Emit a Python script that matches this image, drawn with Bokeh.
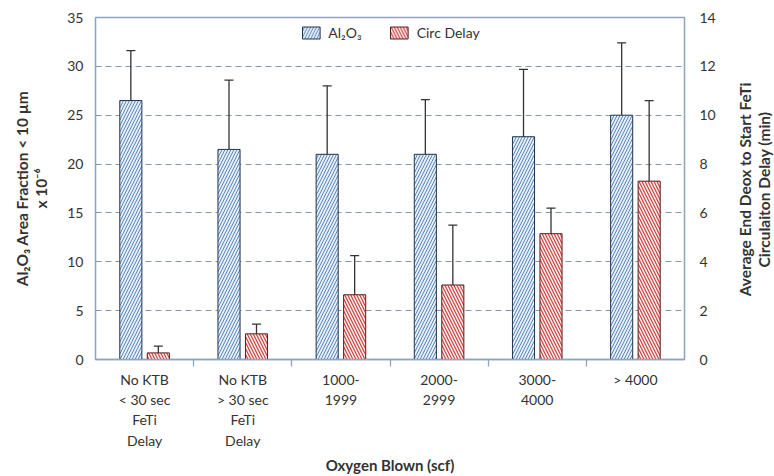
import math
from bokeh.plotting import figure
from bokeh.models import (LinearAxis, Range1d, FixedTicker, Whisker, TeeHead,
                          ColumnDataSource, Legend, LegendItem, Label)
from bokeh.transform import dodge
from bokeh.embed import file_html
from bokeh.resources import INLINE

# ---- data ----
categories = ["No KTB\n< 30 sec\nFeTi\nDelay", "No KTB\n> 30 sec\nFeTi\nDelay",
              "1000-\n1999", "2000-\n2999", "3000-\n4000", "> 4000"]
al2o3 = [26.5, 21.5, 21.0, 21.0, 22.8, 25.0]
al2o3_upper = [31.6, 28.6, 28.0, 26.6, 29.7, 32.4]
al2o3_lower = [19.9, 14.6, 15.5, 16.7, 16.8, 18.0]
circ_delay = [0.27, 1.05, 2.65, 3.05, 5.15, 7.3]
circ_upper = [0.55, 1.45, 4.25, 5.5, 6.2, 10.6]
circ_lower = [0.0, 0.8, 1.4, 1.0, 3.8, 3.9]
left_ticks = [0, 5, 10, 15, 20, 25, 30, 35]
right_ticks = [0, 2, 4, 6, 8, 10, 12, 14]
grid_ticks = [5, 10, 15, 20, 25, 30]
right_title = "Average End Deox to Start FeTi\nCirculaiton Delay (min)"

FONT = "Lato"
TXT = "#333333"
FRAME = "#8fa5bf"

xc = [i + 0.5 for i in range(len(categories))]
boundaries = [i for i in range(1, len(categories))]

src = ColumnDataSource(dict(x=xc, al=al2o3, alu=al2o3_upper, all_=al2o3_lower,
                            cd=circ_delay, cdu=circ_upper, cdl=circ_lower))

p = figure(width=774, height=476, x_range=Range1d(0, len(categories)),
           y_range=Range1d(0, 35), output_backend="svg", toolbar_location=None,
           min_border_left=95, min_border_right=90, min_border_top=17,
           min_border_bottom=112)
p.extra_y_ranges = {"right": Range1d(0, 14)}

p.outline_line_color = FRAME
p.outline_line_width = 1.3
p.xgrid.visible = False
p.ygrid.ticker = FixedTicker(ticks=grid_ticks)
p.ygrid.grid_line_color = "#8496b0"
p.ygrid.grid_line_dash = "6 4"
p.ygrid.grid_line_width = 1.2

rb = p.vbar(x=dodge("x", -0.14), top="al", width=0.225, source=src,
            fill_color="#e6eef8", line_color="#1f3350", line_width=1,
            hatch_pattern="right_diagonal_line", hatch_color="#5b86bd",
            hatch_scale=6, hatch_weight=1.0)
rr = p.vbar(x=dodge("x", 0.14), top="cd", width=0.225, source=src,
            y_range_name="right",
            fill_color="#fdf0f0", line_color="#5a1a1a", line_width=1,
            hatch_pattern="left_diagonal_line", hatch_color="#d0403d",
            hatch_scale=6, hatch_weight=1.2)

wb = Whisker(source=src, base=dodge("x", -0.14), upper="alu", lower="all_",
             dimension="height", line_color="#333333", line_width=1.3,
             upper_head=TeeHead(size=9, line_color="#333333", line_width=1.3),
             lower_head=TeeHead(size=9, line_color="#333333", line_width=1.3))
wr = Whisker(source=src, base=dodge("x", 0.14), upper="cdu", lower="cdl",
             dimension="height", y_range_name="right",
             line_color="#333333", line_width=1.3,
             upper_head=TeeHead(size=9, line_color="#333333", line_width=1.3),
             lower_head=TeeHead(size=9, line_color="#333333", line_width=1.3))
p.add_layout(wb)
p.add_layout(wr)

# bottom axis
xa = p.xaxis[0]
xa.ticker = FixedTicker(ticks=xc, minor_ticks=boundaries)
xa.major_label_overrides = {x: c for x, c in zip(xc, categories)}
xa.major_tick_line_color = None
xa.minor_tick_out = 7
xa.minor_tick_in = 0
xa.minor_tick_line_color = FRAME
xa.minor_tick_line_width = 1.3
xa.axis_line_color = FRAME
xa.axis_line_width = 1.3
xa.major_label_text_font = FONT
xa.major_label_text_font_size = "14px"
xa.major_label_text_color = TXT
xa.major_label_text_line_height = 1.2
xa.major_label_standoff = 4
xa.axis_label = "Oxygen Blown (scf)"
xa.axis_label_text_font = FONT
xa.axis_label_text_font_style = "bold"
xa.axis_label_text_font_size = "15px"
xa.axis_label_text_color = TXT
xa.axis_label_standoff = 4

# left axis
ya = p.yaxis[0]
ya.ticker = FixedTicker(ticks=left_ticks)
ya.major_tick_line_color = None
ya.major_tick_out = 0
ya.minor_tick_line_color = None
ya.axis_line_color = FRAME
ya.axis_line_width = 1.3
ya.major_label_text_font = FONT
ya.major_label_text_font_size = "14px"
ya.major_label_text_color = TXT
ya.major_label_standoff = 12
ya.axis_label = "Al\u2082O\u2083 Area Fraction < 10 \u00b5m\nx 10\u207b\u2076"
ya.axis_label_text_font = FONT
ya.axis_label_text_font_style = "bold"
ya.axis_label_text_font_size = "15.5px"
ya.axis_label_text_color = TXT
ya.axis_label_text_line_height = 1.05
ya.axis_label_standoff = 14

# right axis; its title is a rotated label in the right panel (bottom-to-top)
ra = LinearAxis(y_range_name="right", ticker=FixedTicker(ticks=right_ticks))
ra.major_tick_line_color = None
ra.major_tick_out = 0
ra.minor_tick_line_color = None
ra.axis_line_color = FRAME
ra.axis_line_width = 1.3
ra.major_label_text_font = FONT
ra.major_label_text_font_size = "14px"
ra.major_label_text_color = TXT
ra.major_label_standoff = 15
p.add_layout(ra, "right")

rt = Label(x=36, y=170, x_units="screen", y_units="screen", text=right_title,
           angle=math.pi / 2, text_align="center", text_baseline="middle",
           text_font=FONT, text_font_style="bold", text_font_size="15.5px",
           text_color=TXT, text_line_height=1.05)
p.add_layout(rt, "right")

legend = Legend(items=[LegendItem(label="Al\u2082O\u2083", renderers=[rb]),
                       LegendItem(label="Circ Delay", renderers=[rr])],
                orientation="horizontal", location="top_center",
                glyph_width=22, glyph_height=15, label_standoff=7, spacing=26,
                padding=4, margin=7, border_line_color=None,
                background_fill_alpha=0,
                label_text_font=FONT, label_text_font_size="14px",
                label_text_color=TXT)
p.add_layout(legend, "center")

open("out.html", "w").write(file_html(p, INLINE))
